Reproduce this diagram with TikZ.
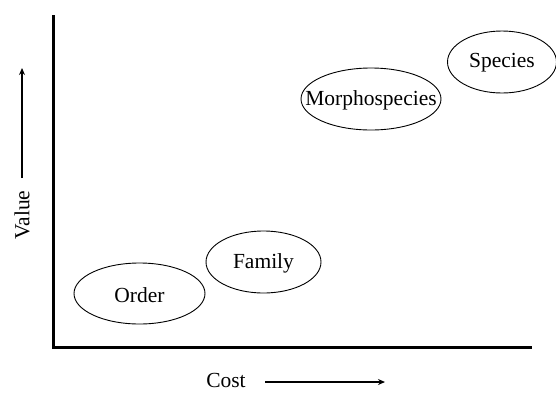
\documentclass[tikz,border=0pt]{standalone}
\usepackage{fontspec}
\setmainfont{Liberation Serif}
\usetikzlibrary{shapes.geometric,arrows.meta}
\begin{document}
\begin{tikzpicture}[x=1pt,y=-1pt,
  blob/.style={draw,line width=0.9pt},
  lbl/.style={font=\fontsize{21.5}{24}\selectfont, inner sep=0pt},
  axisline/.style={line width=3pt},
  dirarrow/.style={line width=1.4pt,-{Stealth[length=7pt,width=6pt]}}]
\useasboundingbox (0,0) rectangle (556,392);
\coordinate (top) at (53,15);
\coordinate (origin) at (53,347);
\coordinate (right) at (532,347);
\draw[axisline] (top) -- (origin) -- (right);
\draw[blob] (139.5,293.5) ellipse [x radius=65.5, y radius=30.5];
\node[lbl] (order) at (139.5,295) {Order};
\draw[blob] (263.5,262) ellipse [x radius=57.5, y radius=31];
\node[lbl] (family) at (263.5,263) {Family};
\draw[blob] (371,99) ellipse [x radius=70, y radius=31];
\node[lbl] (morpho) at (371,100) {Morphospecies};
\draw[blob] (502,62) ellipse [x radius=54.5, y radius=31];
\node[lbl] (species) at (502,63) {Species};
\node[lbl, rotate=90] (value) at (22,215) {Value};
\coordinate (vs) at (22,178);
\coordinate (ve) at (22,68);
\draw[dirarrow] (vs) -- (ve);
\node[lbl] (cost) at (226,380) {Cost};
\coordinate (cs) at (265,382);
\coordinate (ce) at (385,382);
\draw[dirarrow] (cs) -- (ce);
\end{tikzpicture}
\end{document}
